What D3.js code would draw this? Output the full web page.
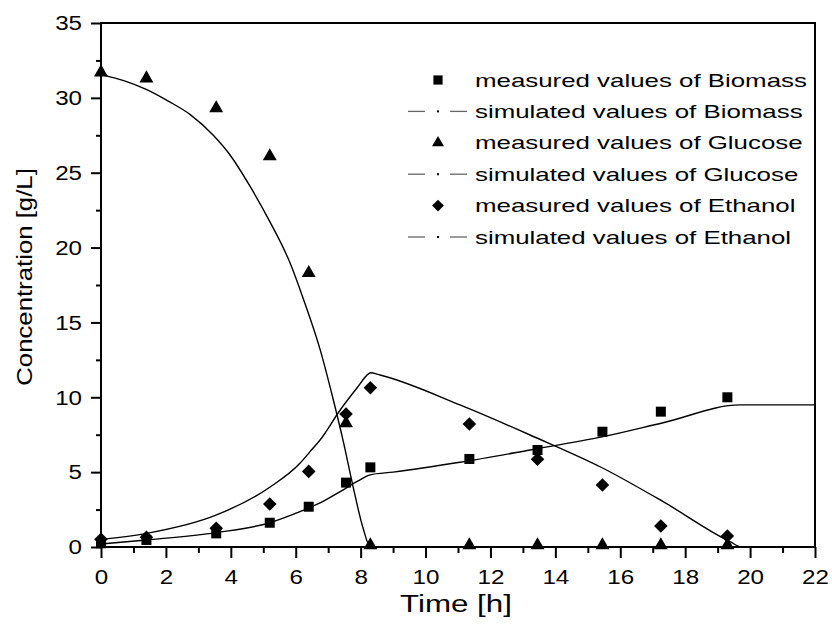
<!DOCTYPE html>
<html lang="en">
<head>
    <meta charset="UTF-8">
    <title>Concentration over time</title>
    <script src="https://cdn.jsdelivr.net/npm/d3@7"></script>
    <style>
        body { margin: 0; background: #fff; }
        svg { font-family: "Liberation Sans", Arial, sans-serif; }
        .sim { fill: none; stroke: #000; stroke-width: 1.4; }
        .frame { fill: none; stroke: #000; stroke-width: 2; }
    </style>
</head>
<body>
<script>
    const width = 832;
    const height = 630;

    // measured data
    const timeMeasured = [0, 1.4, 3.55, 5.2, 6.4, 7.55, 8.3, 11.35, 13.45, 15.45, 17.25, 19.3];
    const biomassMeasured = [0.25, 0.47, 0.91, 1.62, 2.69, 4.3, 5.32, 5.88, 6.48, 7.7, 9.04, 10.0];
    const glucoseMeasured = [31.7, 31.3, 29.3, 26.1, 18.3, 8.26, 0.12, 0.12, 0.12, 0.12, 0.12, 0.12];
    const ethanolMeasured = [0.51, 0.65, 1.25, 2.87, 5.05, 8.88, 10.64, 8.22, 5.86, 4.14, 1.4, 0.73];

    // simulated curves
    const biomassSimT = [0, 1.4, 3.56, 5.2, 6.13, 6.75, 7.37, 7.88, 8.3, 9, 11.06, 13.22, 15.47, 17.32, 19.7, 22];
    const biomassSimV = [0.2, 0.47, 0.96, 1.62, 2.36, 2.94, 3.7, 4.36, 4.82, 5.0, 5.66, 6.48, 7.37, 8.3, 9.49, 9.49];
    const glucoseSimT = [0, 0.7, 1.41, 2.1, 2.74, 3.46, 3.97, 4.59, 5.21, 5.82, 6.23, 6.75, 7.15, 7.46, 7.77, 8.07, 8.3, 22];
    const glucoseSimV = [31.55, 31.15, 30.55, 29.75, 28.9, 27.5, 26.2, 24.1, 21.7, 19.0, 16.6, 13.2, 9.9, 7.1, 4.0, 1.3, 0, 0];
    const ethanolSimT = [0, 1.41, 3.56, 5.2, 6.13, 6.44, 6.75, 7.37, 7.88, 8.24, 8.3, 8.6, 11.06, 13.22, 15.47, 17.32, 19.38, 19.74, 22];
    const ethanolSimV = [0.51, 0.91, 2.14, 3.99, 5.59, 6.37, 7.15, 9.15, 10.6, 11.56, 11.64, 11.49, 9.49, 7.48, 5.26, 3.03, 0.36, 0, 0];

    const xTicks = d3.range(0, 23, 2);
    const yTicks = d3.range(0, 36, 5);
    const legendLabels = [
        "measured values of Biomass", "simulated values of Biomass",
        "measured values of Glucose", "simulated values of Glucose",
        "measured values of Ethanol", "simulated values of Ethanol"
    ];

    const margin = {left: 101, right: 17, top: 23, bottom: 83};
    const iw = width - margin.left - margin.right;
    const ih = height - margin.top - margin.bottom;

    const svg = d3.select("body").append("svg")
        .attr("width", width).attr("height", height);

    const g = svg.append("g").attr("transform", `translate(${margin.left},${margin.top})`);

    const x = d3.scaleLinear().domain([0, 22]).range([0, iw]);
    const y = d3.scaleLinear().domain([0, 35]).range([ih, 0]);

    // the lettering in the original is a bit wider than Arial
    const stretch = 1.15;

    function styleAxis(sel) {
        sel.select(".domain").remove();
        sel.selectAll("line").attr("stroke", "#000").attr("stroke-width", 2);
        sel.selectAll("text").attr("font-size", 21).attr("fill", "#000")
            .attr("font-family", "'Liberation Sans', Arial, sans-serif");
    }
    // minor + major ticks
    g.append("g").attr("transform", `translate(0,${ih})`)
        .call(d3.axisBottom(x).tickValues(d3.range(1, 22, 2)).tickSize(6).tickFormat(""))
        .call(styleAxis);
    g.append("g").attr("transform", `translate(0,${ih})`)
        .call(d3.axisBottom(x).tickValues(xTicks).tickSize(11).tickPadding(11))
        .call(styleAxis)
        .selectAll("text").attr("transform", `scale(${stretch},1)`);
    g.append("g")
        .call(d3.axisLeft(y).tickValues(d3.range(2.5, 35, 5)).tickSize(5).tickFormat(""))
        .call(styleAxis);
    g.append("g")
        .call(d3.axisLeft(y).tickValues(yTicks).tickSize(10).tickPadding(9))
        .call(styleAxis)
        .selectAll("text").attr("x", 0).attr("transform", `translate(-19,0) scale(${stretch},1)`);

    g.append("rect").attr("class", "frame")
        .attr("x", 0).attr("y", 0).attr("width", iw).attr("height", ih);

    // simulated lines
    const line = d3.line().x(d => x(d[0])).y(d => y(d[1])).curve(d3.curveMonotoneX);
    [[biomassSimT, biomassSimV], [glucoseSimT, glucoseSimV], [ethanolSimT, ethanolSimV]].forEach(([t, v]) => {
        g.append("path").attr("class", "sim")
            .attr("d", line(d3.zip(t, v)));
    });

    // measured markers
    const sq = d3.symbol().type(d3.symbolSquare).size(100);
    const tri = d3.symbol().type(d3.symbolTriangle).size(84);
    const dia = d3.symbol().type(d3.symbolSquare).size(92);

    function drawMarkers(values, sym, rot) {
        g.append("g").selectAll("path")
            .data(d3.zip(timeMeasured, values))
            .join("path")
            .attr("d", sym)
            .attr("transform", d => `translate(${x(d[0])},${y(d[1])}) rotate(${rot})`)
            .attr("fill", "#000");
    }
    drawMarkers(biomassMeasured, sq, 0);
    drawMarkers(glucoseMeasured, tri, 0);
    drawMarkers(ethanolMeasured, dia, 45);

    // legend
    const legend = svg.append("g").attr("transform", "translate(0,80)");
    const legendSyms = [
        d3.symbol().type(d3.symbolSquare).size(85)(), null,
        d3.symbol().type(d3.symbolTriangle).size(62)(), null,
        d3.symbol().type(d3.symbolSquare).size(70)(), null
    ];
    const legendRot = [0, 0, 0, 0, 45, 0];
    legendLabels.forEach((lab, i) => {
        const row = legend.append("g").attr("transform", `translate(0,${i * 31.4})`);
        if (legendSyms[i]) {
            row.append("path").attr("d", legendSyms[i])
                .attr("transform", `translate(438,0) rotate(${legendRot[i]})`).attr("fill", "#000");
        } else {
            row.append("line").attr("x1", 408).attr("x2", 425).attr("stroke", "#666").attr("stroke-width", 1.3);
            row.append("rect").attr("x", 437).attr("y", -1).attr("width", 2).attr("height", 2).attr("fill", "#000");
            row.append("line").attr("x1", 450).attr("x2", 467).attr("stroke", "#666").attr("stroke-width", 1.3);
        }
        row.append("text").attr("transform", "translate(475,6.5) scale(1.39,1)")
            .attr("font-size", 18.6).text(lab);
    });

    // axis titles
    svg.append("text").attr("transform", `translate(${margin.left + iw / 2 - 2},612) scale(1.36,1)`)
        .attr("text-anchor", "middle").attr("font-size", 23).text("Time [h]");
    svg.append("text").attr("transform", "translate(32,277) rotate(-90) scale(1.12,1)")
        .attr("text-anchor", "middle").attr("font-size", 23).text("Concentration [g/L]");
</script>
</body>
</html>
